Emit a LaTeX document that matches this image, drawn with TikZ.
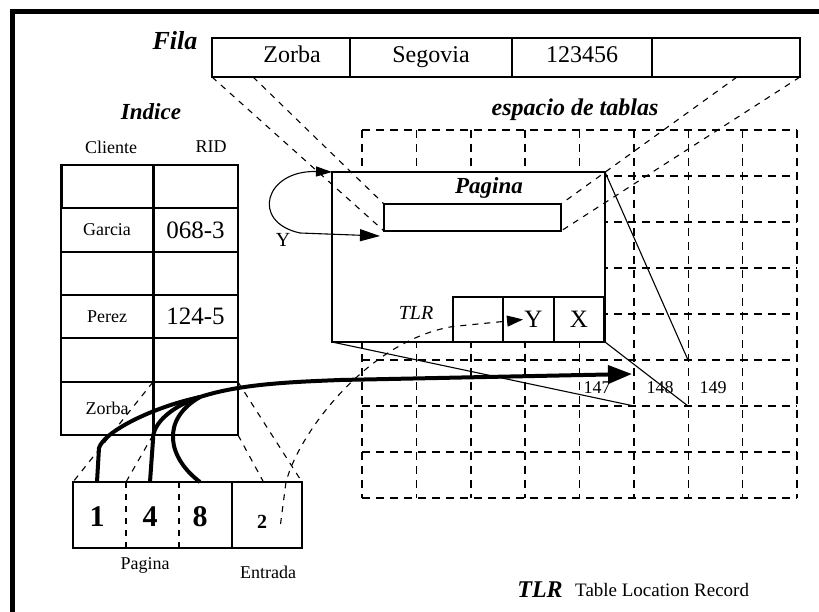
\documentclass[tikz,border=0pt]{standalone}
\usepackage{fontspec}
\setmainfont{Liberation Serif}
\usetikzlibrary{arrows.meta,positioning,calc}

\newcommand{\fsz}[1]{\fontsize{#1}{#1}\selectfont}

\begin{document}
\begin{tikzpicture}[
  x=1pt, y=-1pt,
  ttl/.style={font=\fsz{24}\bfseries\itshape, inner sep=0pt},
  txt/.style={font=\fsz{18}, inner sep=0pt},
  cell/.style={
    draw, line width=1.4pt, anchor=north west,
    inner sep=0pt, outer sep=0pt, font=\fsz{24}},
  rowcell/.style={cell, minimum height=39pt, text height=16pt, text depth=5pt},
  idx/.style={cell, line width=1.2pt, font=\fsz{18}},
  tlrbox/.style={cell, line width=2.2pt, minimum height=45pt, font=\fsz{25}},
  proj/.style={dash pattern=on 6pt off 6pt, line width=1.1pt},
  gridln/.style={dash pattern=on 8pt off 6pt, line width=1.5pt},
  mapln/.style={line width=1.1pt},
  thk/.style={line width=4pt},
]
  \useasboundingbox (0,0) rectangle (819,612);
  \fill[white] (0,0) rectangle (819,612);

  % ── Frame ───────────────────────────────────────────────────────────────
  \draw[line width=5pt] (12.5,630) -- (12.5,11.5) -- (835,11.5);

  % ── Table space grid (8 x 8 pages) ──────────────────────────────────────
  \foreach \gx in {0,...,8}
    \draw[gridln] ({362+54.375*\gx},130) -- ({362+54.375*\gx},498);
  \foreach \gy in {0,...,8}
    \draw[gridln] (362,{130+46*\gy}) -- (797,{130+46*\gy});
  \node[ttl] (espacio) at (575,110) {espacio de tablas};

  \coordinate (g148nw) at (634,360);
  \coordinate (g148ne) at (688,360);
  \coordinate (g148sw) at (634,406);
  \coordinate (g148se) at (688,406);
  \node[txt] (n147) at (597,388) {147};
  \node[txt] (n148) at (660,388) {148};
  \node[txt] (n149) at (713,388) {149};

  % ── Row ─────────────────────────────────────────────────────────────────
  \node[ttl, font=\fsz{26}\bfseries\itshape] (fila) at (175,41) {Fila};
  \node[rowcell, minimum width=138pt] (fz) at (212,38) {\hspace{22pt}Zorba};
  \node[rowcell, minimum width=162pt, right=0pt of fz] (fs) {Segovia};
  \node[rowcell, minimum width=140pt, right=0pt of fs] (fn) {123456};
  \node[rowcell, minimum width=148pt, right=0pt of fn] (fe) {};
  \coordinate (fzb) at (253,77);
  \coordinate (fer) at (737,77);

  % ── Index ───────────────────────────────────────────────────────────────
  \node[ttl, font=\fsz{23}\bfseries\itshape] (indice) at (151,112) {Indice};
  \node[txt] (hcli) at (111,147) {Cliente};
  \node[txt] (hrid) at (211,147) {RID};

  \node[idx, minimum width=92pt, minimum height=43pt] (c1) at (61,165) {};
  \node[idx, minimum width=85pt, minimum height=43pt, right=0pt of c1] (r1) {};
  \node[idx, minimum width=92pt, minimum height=44pt, below=0pt of c1] (c2) {Garcia};
  \node[idx, minimum width=85pt, minimum height=44pt, right=0pt of c2, font=\fsz{25}] (r2) {068-3};
  \node[idx, minimum width=92pt, minimum height=43pt, below=0pt of c2] (c3) {};
  \node[idx, minimum width=85pt, minimum height=43pt, right=0pt of c3] (r3) {};
  \node[idx, minimum width=92pt, minimum height=43pt, below=0pt of c3] (c4) {Perez};
  \node[idx, minimum width=85pt, minimum height=43pt, right=0pt of c4, font=\fsz{25}] (r4) {124-5};
  \node[idx, minimum width=92pt, minimum height=44pt, below=0pt of c4] (c5) {};
  \node[idx, minimum width=85pt, minimum height=44pt, right=0pt of c5] (r5) {};
  \node[idx, minimum width=92pt, minimum height=53pt, below=0pt of c5] (c6) {Zorba};
  \node[idx, minimum width=85pt, minimum height=53pt, right=0pt of c6] (r6) {};
  \draw[line width=3pt] (r1.north west) -- (r6.south west);
  \draw[line width=3pt] (c1.north west) -- (c1.south west);

  % ── Page ────────────────────────────────────────────────────────────────
  \node[cell, fill=white, line width=1.6pt, minimum width=273pt,
        minimum height=170pt] (page) at (332,172) {};
  \node[ttl, font=\fsz{23}\bfseries\itshape] (pglbl) at (489,188) {Pagina};
  \node[cell, minimum width=177pt, minimum height=27pt] (slot) at (384,204) {};
  \node[txt, font=\fsz{20}\itshape] (tlrlbl) at (416,313) {TLR};
  \node[tlrbox, minimum width=50pt] (t1) at (453,297) {};
  \node[tlrbox, minimum width=51pt, right=0pt of t1] (t2) {\hspace{10pt}Y};
  \node[tlrbox, minimum width=50pt, right=0pt of t2] (t3) {X};

  % ── Row → slot ──────────────────────────────────────────────────────────
  \draw[proj] (fz.south west) -- (slot.south west);
  \draw[proj] (fzb) -- (slot.north west);
  \draw[proj] (fer) -- (slot.north east);
  \draw[proj] (fe.south east) -- (slot.south east);

  % ── Page → grid cell 148 ────────────────────────────────────────────────
  \draw[mapln] (page.north east) -- (g148ne);
  \draw[mapln] (page.south east) -- (g148se);
  \draw[mapln] (page.south west) -- (g148sw);

  % ── Y loop ──────────────────────────────────────────────────────────────
  \node[txt, font=\fsz{20}] (yloop) at (283,240) {Y};
  \draw[mapln, {Triangle[length=16pt,width=10pt]}-{Triangle[length=20pt,width=12pt]}]
      (page.north west) .. controls (265,170) and (250,222) .. (300,233)
      -- ($(slot.south west)+(-4,5)$);

  % ── RID (bottom) ────────────────────────────────────────────────────────
  \node[cell, minimum width=159pt, minimum height=66pt] (pg) at (73,482) {};
  \node[cell, minimum width=70pt, minimum height=66pt, right=0pt of pg] (ent) {};
  \coordinate (pgd1) at ($(pg.north west)!1/3!(pg.north east)$);
  \coordinate (pgd2) at ($(pg.north west)!2/3!(pg.north east)$);
  \draw[proj] (pgd1) -- (pgd1 |- pg.south);
  \draw[proj] (pgd2) -- (pgd2 |- pg.south);
  \node[font=\fsz{30}\bfseries] (n1) at (97,517) {1};
  \node[font=\fsz{30}\bfseries] (n4) at (150,517) {4};
  \node[font=\fsz{30}\bfseries] (n8) at (200,517) {8};
  \node[font=\fsz{20}\bfseries] (n2) at (262,522) {2};
  \node[txt] (pgname) at (145,565) {Pagina};
  \node[txt] (entname) at (268,572) {Entrada};

  % index entry → RID
  \draw[proj] (r6.north west) -- (pg.north west);
  \draw[proj] (r6.south west) -- (pgd1);
  \draw[proj] (r6.south east) -- ($(ent.north west)!0.45!(ent.north east)$);
  \draw[proj] (r6.north east) -- (ent.north east);

  % entry → slot in TLR
  \draw[proj, -{Triangle[length=16pt,width=11pt]}]
      ($(n2.east)+(10,2)$) -- ($(ent.north)+(19,0)$)
      .. controls (300,430) and (370,340) .. ($(t1.west)+(0,7)$)
      -- ($(t2.west)+(20,0)$);

  % page number → grid
  \coordinate (merge) at (200,397);
  \coordinate (arrowend) at (632,374);
  \draw[thk] (n1.north |- pg.north) -- ++(2,-34)
      .. controls (104,432) and (150,408) .. (merge);
  \draw[thk] (n4.north |- pg.north) -- ++(3,-42)
      .. controls (152,422) and (175,405) .. (merge);
  \draw[thk] (n8.north |- pg.north)
      .. controls (168,458) and (160,420) .. (merge);
  \draw[thk, -{Triangle[length=24pt,width=18pt]}]
      (merge) .. controls (240,384) and (290,382) .. (340,380) -- (arrowend);

  % ── Key ─────────────────────────────────────────────────────────────────
  \node[ttl] (tlrkey) at (540,590) {TLR};
  \node[txt, font=\fsz{19}, anchor=west] (tlrtxt) at (575,590) {Table Location Record};

\end{tikzpicture}
\end{document}
